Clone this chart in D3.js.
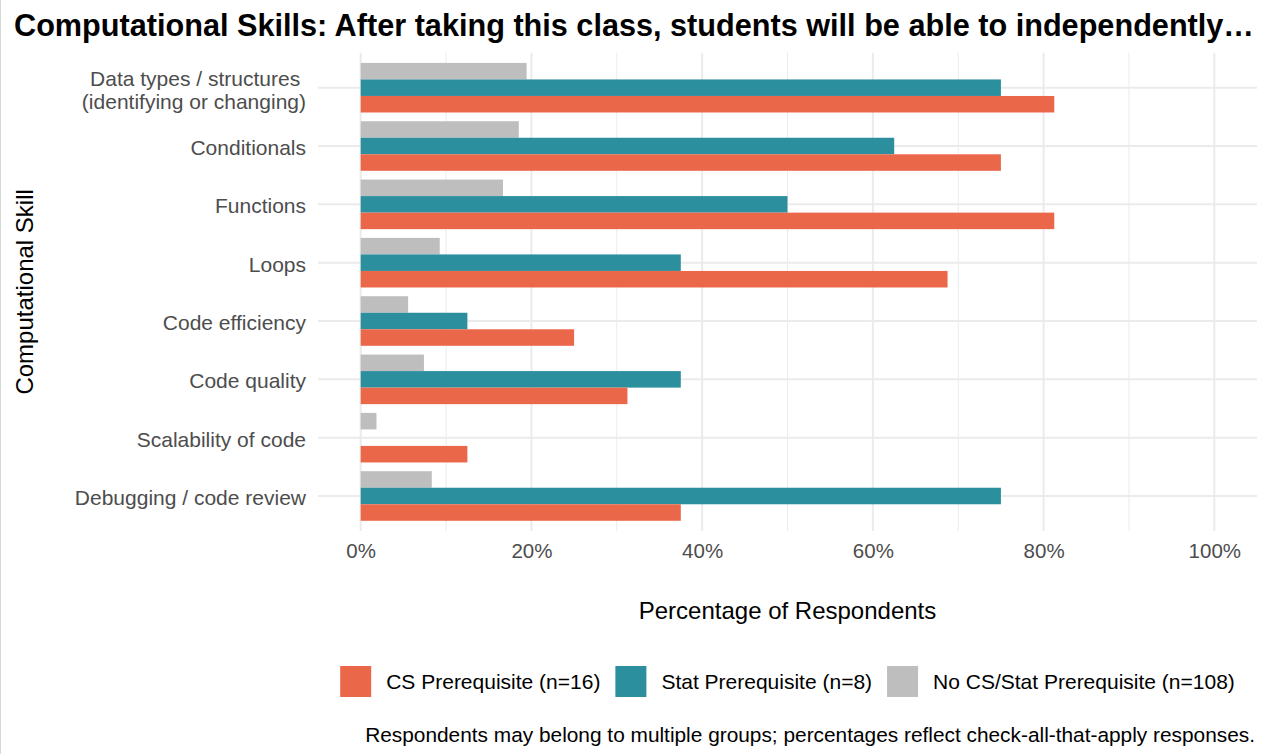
<!DOCTYPE html>
<html>
<head>
<meta charset="utf-8">
<script src="https://cdn.jsdelivr.net/npm/d3@7"></script>
<style>
  body { margin: 0; background: #fff; }
  text { font-family: "Liberation Sans", Arial, sans-serif; }
</style>
</head>
<body>
<div id="chart"></div>
<script>
// categories, top to bottom
var skills = [
    "Data types / structures \n(identifying or changing)",
    "Conditionals",
    "Functions",
    "Loops",
    "Code efficiency",
    "Code quality",
    "Scalability of code",
    "Debugging / code review"
];
var groups = ["CS Prerequisite (n=16)", "Stat Prerequisite (n=8)", "No CS/Stat Prerequisite (n=108)"];
var colors = ["#eb674a", "#2b8f9e", "#bebebe"];

// percentages of respondents
var csPct = [81.25, 75, 81.25, 68.75, 25, 31.25, 12.5, 37.5];
var statPct = [75, 62.5, 50, 37.5, 12.5, 37.5, 0, 75];
var noPct = [19.44, 18.52, 16.67, 9.26, 5.56, 7.41, 1.85, 8.33];

var xTicks = [0, 20, 40, 60, 80, 100];
var xMinor = [10, 30, 50, 70, 90];

var title = "Computational Skills: After taking this class, students will be able to independently\u2026";
var xTitle = "Percentage of Respondents";
var yTitle = "Computational Skill";
var caption = "Respondents may belong to multiple groups; percentages reflect check-all-that-apply responses.";

var W = 1267, H = 754;
var panel = { left: 318, right: 1257, top: 52.7, bottom: 531 };

var rows = [];
skills.forEach(function (s, i) {
    rows.push({ skill: s, vals: [csPct[i], statPct[i], noPct[i]] });
});

var svg = d3.select('#chart').append('svg')
    .attr('width', W)
    .attr('height', H);

svg.append('rect').attr('width', W).attr('height', H).attr('fill', '#fff');
svg.append('line')
    .attr('x1', 0.5).attr('x2', 0.5).attr('y1', 0).attr('y2', H)
    .attr('stroke', '#d9d9d9').attr('stroke-width', 1);

var x = d3.scaleLinear().domain([-5, 105]).range([panel.left, panel.right]);
var y = d3.scaleBand().domain(skills).range([panel.top, panel.bottom])
    .paddingInner(0).paddingOuter(0.1);

// bars within a category: gray top, teal middle, orange bottom
var inner = d3.scaleBand().domain([2, 1, 0])
    .range([-0.425 * y.bandwidth(), 0.425 * y.bandwidth()]);

// grid
var grid = svg.append('g');
grid.selectAll('.minor').data(xMinor).enter().append('line')
    .attr('x1', d => x(d)).attr('x2', d => x(d))
    .attr('y1', panel.top).attr('y2', panel.bottom)
    .attr('stroke', '#ebebeb').attr('stroke-width', 1);
grid.selectAll('.major').data(xTicks).enter().append('line')
    .attr('x1', d => x(d)).attr('x2', d => x(d))
    .attr('y1', panel.top).attr('y2', panel.bottom)
    .attr('stroke', '#ebebeb').attr('stroke-width', 2);
grid.selectAll('.hmajor').data(skills).enter().append('line')
    .attr('x1', panel.left).attr('x2', panel.right)
    .attr('y1', d => y(d) + y.bandwidth() / 2).attr('y2', d => y(d) + y.bandwidth() / 2)
    .attr('stroke', '#ebebeb').attr('stroke-width', 2);

// bars
var cat = svg.append('g').selectAll('g').data(rows).enter().append('g')
    .attr('transform', d => 'translate(0,' + (y(d.skill) + y.bandwidth() / 2) + ')');
cat.selectAll('rect')
    .data(d => d.vals.map((v, k) => ({ v: v, k: k })).reverse())
    .enter().append('rect')
    .attr('x', x(0))
    .attr('y', d => inner(d.k))
    .attr('width', d => x(d.v) - x(0))
    .attr('height', inner.bandwidth())
    .attr('fill', d => colors[d.k]);

// x axis
var xAxis = svg.append('g')
    .attr('transform', 'translate(0,' + panel.bottom + ')')
    .call(d3.axisBottom(x).tickValues(xTicks).tickFormat(d => d + '%').tickSize(0).tickPadding(27));
xAxis.select('.domain').remove();
xAxis.selectAll('text')
    .attr('fill', '#4d4d4d')
    .style('font-size', '20.5px')
    .style('font-family', '"Liberation Sans", Arial, sans-serif')
    .attr('dy', null);

// y axis
var yAxis = svg.append('g')
    .attr('transform', 'translate(' + panel.left + ',0)')
    .call(d3.axisLeft(y).tickSize(0).tickPadding(12));
yAxis.select('.domain').remove();
yAxis.selectAll('text')
    .attr('fill', '#4d4d4d')
    .style('font-size', '21px')
    .style('font-family', '"Liberation Sans", Arial, sans-serif')
    .style('white-space', 'pre')
    .each(function (d) {
        var lines = d.split('\n');
        var t = d3.select(this).text(null).attr('dy', null);
        var x0 = t.attr('x');
        lines.forEach(function (ln, i) {
            t.append('tspan')
                .attr('x', x0)
                .attr('dy', i === 0 ? (9 - (lines.length - 1) * 11) + 'px' : '23px')
                .text(ln);
        });
    });

// axis titles
svg.append('text')
    .attr('x', (panel.left + panel.right) / 2)
    .attr('y', 619)
    .attr('text-anchor', 'middle')
    .style('font-size', '24px')
    .attr('fill', '#000')
    .text(xTitle);
svg.append('text')
    .attr('transform', 'translate(33,' + ((panel.top + panel.bottom) / 2) + ') rotate(-90)')
    .attr('text-anchor', 'middle')
    .style('font-size', '24px')
    .attr('fill', '#000')
    .text(yTitle);

// title
svg.append('text')
    .attr('x', 14)
    .attr('y', 36)
    .style('font-size', '30.65px')
    .style('font-weight', 'bold')
    .attr('fill', '#000')
    .text(title);

// legend
var keyS = 31, gap = 15, legY = 666;
var legend = svg.append('g');
var items = legend.selectAll('g').data(groups).enter().append('g');
items.append('rect')
    .attr('width', keyS).attr('height', keyS)
    .attr('fill', (d, i) => colors[i]);
items.append('text')
    .attr('x', keyS + gap)
    .attr('y', keyS / 2 + 7.5)
    .style('font-size', '21px')
    .attr('fill', '#000')
    .text(d => d);
var offs = [], total = 0;
items.each(function () {
    var w = keyS + gap + d3.select(this).select('text').node().getComputedTextLength();
    offs.push(total);
    total += w + gap;
});
total -= gap;
var legX = (panel.left + panel.right) / 2 - total / 2;
items.attr('transform', (d, i) => 'translate(' + (legX + offs[i]) + ',' + legY + ')');

// caption
svg.append('text')
    .attr('x', 1255)
    .attr('y', 742)
    .attr('text-anchor', 'end')
    .style('font-size', '20.85px')
    .attr('fill', '#000')
    .text(caption);
</script>
</body>
</html>
